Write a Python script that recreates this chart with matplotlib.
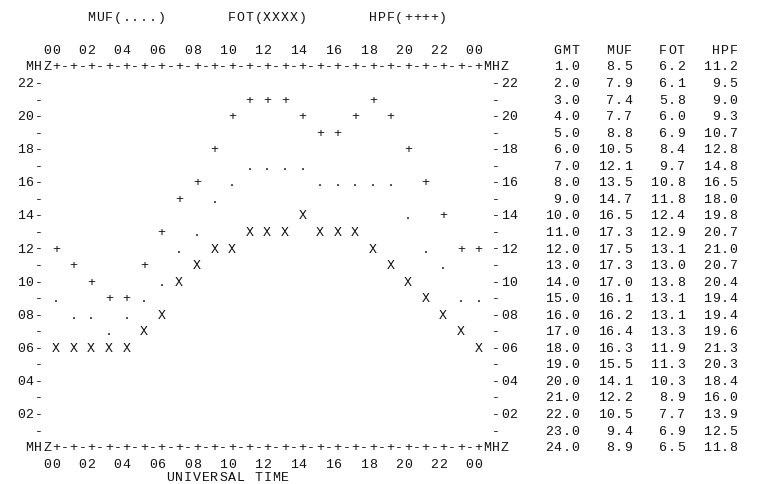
import numpy as np
import matplotlib.pyplot as plt

# hourly forecast, GMT 1..24 (values in MHz, as listed in the table)
gmt = [1, 2, 3, 4, 5, 6, 7, 8, 9, 10, 11, 12, 13, 14, 15, 16, 17, 18, 19, 20, 21, 22, 23, 24]
muf = [8.48, 7.9, 7.4, 7.7, 8.8, 10.48, 12.1, 13.48, 14.7, 16.48, 17.3, 17.48,
       17.3, 17.0, 16.1, 16.2, 16.4, 16.3, 15.52, 14.1, 12.2, 10.52, 9.4, 8.9]
fot = [6.2, 6.1, 5.8, 6.0, 6.9, 8.4, 9.7, 10.8, 11.8, 12.4, 12.9, 13.1,
       13.0, 13.8, 13.1, 13.1, 13.3, 11.9, 11.3, 10.3, 8.9, 7.7, 6.9, 6.48]
hpf = [11.2, 9.52, 9.0, 9.3, 10.7, 12.8, 14.8, 16.48, 18.0, 19.8, 20.7, 21.0,
       20.7, 20.4, 19.4, 19.4, 19.6, 21.3, 20.3, 18.4, 16.0, 13.9, 12.48, 11.8]

series = [("MUF", muf, "."), ("FOT", fot, "X"), ("HPF", hpf, "+")]

FONT = dict(family="Liberation Mono", fontsize=9.5, color="#111111")
W, H = 758, 485
CHAR_W, LINE_H = 8.8, 16.55   # px per character / per text line
X0, Y0 = 56, 447              # pixel position of hour 0, 0 MHz

fig = plt.figure(figsize=(W / 100, H / 100), dpi=100)
ax = fig.add_axes([0, 0, 1, 1])
ax.set_axis_off()
# x in hours (one hour = two characters), y in MHz (one MHz = one text line)
ax.set_xlim(-X0 / (2 * CHAR_W), (W - X0) / (2 * CHAR_W))
ax.set_ylim((Y0 - H) / LINE_H, Y0 / LINE_H)

BASE = 0.25  # baseline sits a bit below the middle of a line


def put(col, row, s, base=BASE):
    # write a string on the character grid, col 4 is hour 0
    for i, ch in enumerate(s):
        if ch != " ":
            ax.text((col + i - 4) / 2.0, row - base, ch,
                    ha="center", va="baseline", **FONT)


# titles
for k, (name, vals, mark) in enumerate(series):
    put(8 + 16 * k, 26, name + "(" + mark * 4 + ")")

# frame
border = "MHZ" + "+-" * 24 + "+MHZ"
put(1, 23, border)
put(1, 0, border)
ticks = "".join("%02d  " % (h % 24) for h in range(0, 25, 2))
put(3, 24, ticks)
put(3, -1, ticks)
for r in range(1, 23):
    if r % 2 == 0:
        put(0, r, "%02d-" % r)
        put(54, r, "-%02d" % r)
    else:
        put(2, r, "-")
        put(54, r, "-")
put(17, -2, "UNIVERSAL TIME", base=0.08)

# curves, hour 0 repeats hour 24
hours = np.r_[0, gmt]
for name, vals, mark in series:
    v = np.r_[vals[-1], vals]
    rows = np.floor(v + 0.5)
    for h, r in zip(hours, rows):
        ax.text(h, r - BASE, mark, ha="center", va="baseline", **FONT)

# table
put(59, 24, "%5s%6s%6s%6s" % ("GMT", "MUF", "FOT", "HPF"))
for i, g in enumerate(gmt):
    put(59, 23 - i, "%5.1f%6.1f%6.1f%6.1f" % (g, muf[i], fot[i], hpf[i]))

fig.savefig("out.png", dpi=100)
